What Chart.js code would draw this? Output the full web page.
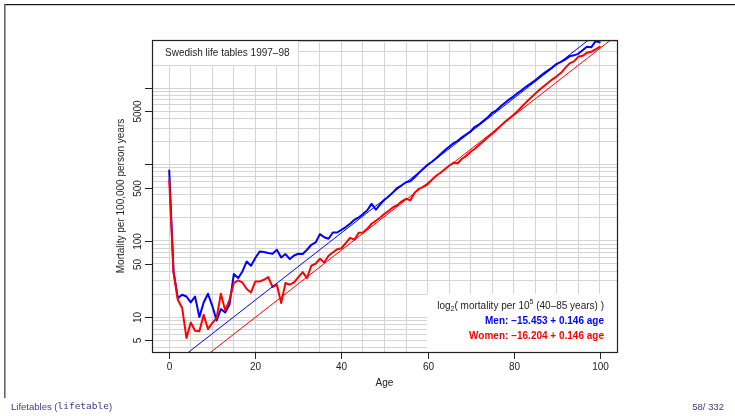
<!DOCTYPE html>
<html><head><meta charset="utf-8">
<script src="https://cdn.jsdelivr.net/npm/chart.js@4.4.1/dist/chart.umd.min.js"></script>
<style>html,body{margin:0;padding:0;background:#fff;width:735px;height:416px;overflow:hidden}canvas{display:block}</style>
</head><body><canvas id="c" width="735" height="416"></canvas>
<script>
// ---- data ----
const ages = Array.from({length: 101}, (_, i) => i);
const menRate = [835, 39.9, 17.9, 19.8, 18.8, 15.7, 18.8, 10.1, 15.7, 20.4, 14.2, 9.1, 12.9, 11.6, 14.7, 36.9, 32.7, 39.9, 54, 47.4,
  59.8, 72.9, 71.6, 69.5, 68, 76.7, 60.9, 67.4, 58, 64.6, 68, 67.4, 76.7, 89.2, 95.6, 123, 112, 107, 129, 129,
  140, 152, 168, 189, 203, 225, 252, 306, 256, 302, 346, 384, 433, 496, 535, 585, 603, 680, 779, 879,
  991, 1085, 1205, 1359, 1533, 1703, 1893, 2041, 2268, 2482, 2716, 3110, 3354, 3726, 4140, 4741, 5110, 5766, 6405, 7118,
  7792, 8658, 9475, 10525, 11520, 12610, 14010, 15570, 17040, 18650, 20720, 22000, 23730, 25970, 26760, 28000, 31110, 34560, 34050, 40790,
  39580];
const womenRate = [631, 39, 17.0, 13.3, 5.4, 8.6, 6.7, 6.6, 10.8, 7.05, 8.45, 9.8, 20.4, 12.3, 17.0, 28.2, 30.5, 28.7, 23.5, 21.2,
  29.6, 29.6, 31.1, 33.7, 25.0, 26.8, 15.4, 28.2, 26.8, 28.7, 33.7, 39.2, 32.7, 47.4, 50.4, 58.5, 52.4, 64.0, 70.7, 77.9,
  80.3, 93.9, 110, 104, 128, 129, 144, 168, 184, 203, 227, 248, 276, 293, 330, 356, 340, 427, 481, 511,
  551, 631, 712, 779, 866, 962, 1052, 1037, 1187, 1299, 1466, 1604, 1809, 2011, 2268, 2520, 2842, 3205, 3615, 4017,
  4463, 5035, 5766, 6601, 7445, 8400, 9475, 10525, 11700, 12990, 14220, 15800, 18370, 21030, 22340, 25570, 26350, 28850, 29730, 32050,
  34560];
// fitted lines (log2 model), values at the two ends of the age axis
const fitAges = [0, 104];
const menFit = [2.23, 83000];
const womenFit = [1.325, 49320];
// axes
const xTicks = [0, 20, 40, 60, 80, 100];
const xTickLabels = ['0', '20', '40', '60', '80', '100'];
const yTicks = [5, 10, 50, 100, 500, 1000, 5000, 10000];
const yTickLabels = ['5', '10', '50', '100', '500', '', '5000', ''];
const xGrid = Array.from({length: 21}, (_, i) => i * 5);
const yGrid = [];
[1, 10, 100, 1000, 10000].forEach(d => { for (let m = 1; m <= 9; m++) yGrid.push(m * d); });
const legendTitle = 'Swedish life tables 1997\u201398';
const menFitLabel = 'Men: \u221215.453 + 0.146 age';
const womenFitLabel = 'Women: \u221216.204 + 0.146 age';
const yTitle = 'Mortality per 100,000 person years';
const xTitle = 'Age';

const FONT = '"Liberation Sans", Arial, Helvetica, sans-serif';
const pts = (xs, ys) => xs.map((x, i) => ({x: x, y: ys[i]}));

const decor = {
  id: 'decor',
  beforeDatasetsDraw(chart) {
    const {ctx, chartArea: a} = chart;
    ctx.save();
    ctx.fillStyle = '#fff';
    ctx.fillRect(a.left, a.top, 146, 25);
    ctx.fillRect(a.right - 190, a.bottom - 58, 190, 58);
    ctx.restore();
  },
  afterDraw(chart) {
    const {ctx, chartArea: a} = chart;
    const xs = chart.scales.x, ys = chart.scales.y;
    ctx.save();
    // slide frame
    ctx.fillStyle = '#111';
    ctx.fillRect(5, 4, 730, 1.2);
    ctx.fillStyle = '#666';
    ctx.fillRect(4, 4, 1.6, 394);
    // plot box
    ctx.strokeStyle = '#222';
    ctx.lineWidth = 1.2;
    ctx.strokeRect(a.left + 0.5, a.top + 0.5, a.right - a.left, a.bottom - a.top);
    // x ticks
    ctx.fillStyle = '#222';
    ctx.font = '10px ' + FONT;
    ctx.textAlign = 'center';
    ctx.textBaseline = 'middle';
    ctx.lineWidth = 1;
    xTicks.forEach((v, i) => {
      const px = Math.round(xs.getPixelForValue(v)) + 0.5;
      ctx.beginPath(); ctx.moveTo(px, a.bottom); ctx.lineTo(px, a.bottom + 7); ctx.stroke();
      ctx.fillText(xTickLabels[i], px, a.bottom + 15);
    });
    // y ticks
    yTicks.forEach((v, i) => {
      const py = Math.round(ys.getPixelForValue(v)) + 0.5;
      ctx.beginPath(); ctx.moveTo(a.left, py); ctx.lineTo(a.left - 7, py); ctx.stroke();
      if (yTickLabels[i]) {
        ctx.save();
        ctx.translate(a.left - 14, py);
        ctx.rotate(-Math.PI / 2);
        ctx.fillText(yTickLabels[i], 0, 0);
        ctx.restore();
      }
    });
    // axis titles
    ctx.fillText(xTitle, (a.left + a.right) / 2, a.bottom + 31);
    ctx.save();
    ctx.translate(a.left - 31, (a.top + a.bottom) / 2);
    ctx.rotate(-Math.PI / 2);
    ctx.fillText(yTitle, 0, 0);
    ctx.restore();
    // legend title
    ctx.textAlign = 'left';
    ctx.fillText(legendTitle, a.left + 13, a.top + 13);
    // fit box text
    const rx = a.right - 13;
    let y1 = a.bottom - 46;
    const parts = [
      ['log', 10, 0], ['2', 7, 3], ['( mortality per 10', 10, 0], ['5', 7, -4], [' (40\u201385 years) )', 10, 0]
    ];
    let tot = 0;
    parts.forEach(p => { ctx.font = p[1] + 'px ' + FONT; tot += ctx.measureText(p[0]).width; });
    let cx = rx - tot;
    parts.forEach(p => {
      ctx.font = p[1] + 'px ' + FONT;
      ctx.fillText(p[0], cx, y1 + p[2]);
      cx += ctx.measureText(p[0]).width;
    });
    ctx.textAlign = 'right';
    ctx.font = 'bold 10px ' + FONT;
    ctx.fillStyle = '#0000ff';
    ctx.fillText(menFitLabel, rx, a.bottom - 30.5);
    ctx.fillStyle = '#ff0000';
    ctx.fillText(womenFitLabel, rx, a.bottom - 15.5);
    // footer
    ctx.textAlign = 'left';
    ctx.fillStyle = '#3b3b8a';
    ctx.font = '9.5px ' + FONT;
    let fx = 11;
    const fy = 407;
    ctx.fillText('Lifetables (', fx, fy); fx += ctx.measureText('Lifetables (').width;
    ctx.font = '9.5px "DejaVu Sans Mono", "Liberation Mono", monospace';
    ctx.fillText('lifetable', fx, fy); fx += ctx.measureText('lifetable').width;
    ctx.font = '9.5px ' + FONT;
    ctx.fillText(')', fx, fy);
    ctx.textAlign = 'right';
    ctx.font = '9.5px ' + FONT;
    ctx.fillText('58/ 332', 724, fy);
    ctx.restore();
  }
};

new Chart(document.getElementById('c'), {
  type: 'line',
  data: {
    datasets: [
      {label: 'Men fit', data: pts(fitAges, menFit), borderColor: '#0000ff', borderWidth: 1, pointRadius: 0, order: 0},
      {label: 'Women fit', data: pts(fitAges, womenFit), borderColor: '#ff0000', borderWidth: 1, pointRadius: 0, order: 1},
      {label: 'Women', data: pts(ages, womenRate), borderColor: '#ff0000', borderWidth: 2, pointRadius: 0, order: 2},
      {label: 'Men', data: pts(ages, menRate), borderColor: '#0000ff', borderWidth: 2, pointRadius: 0, order: 3}
    ]
  },
  options: {
    responsive: false,
    animation: false,
    devicePixelRatio: 1,
    layout: {padding: {top: 40, right: 118, left: 0, bottom: 0}},
    plugins: {legend: {display: false}, tooltip: {enabled: false}},
    elements: {line: {tension: 0, borderJoinStyle: 'round', borderCapStyle: 'round'}},
    scales: {
      x: {
        type: 'linear', min: -4, max: 104,
        afterBuildTicks: s => { s.ticks = xGrid.filter(v => v >= s.min && v <= s.max).map(v => ({value: v})); },
        afterFit: s => { s.height = 64; },
        ticks: {display: false},
        grid: {color: '#d4d4d4', lineWidth: 1, drawTicks: false},
        border: {display: false}
      },
      y: {
        type: 'logarithmic', min: Math.pow(10, 0.548), max: Math.pow(10, 4.628),
        afterBuildTicks: s => { s.ticks = yGrid.filter(v => v >= s.min && v <= s.max).map(v => ({value: v})); },
        afterFit: s => { s.width = 152; },
        ticks: {display: false},
        grid: {color: '#d4d4d4', lineWidth: 1, drawTicks: false},
        border: {display: false}
      }
    }
  },
  plugins: [decor]
});
</script>
</body></html>
